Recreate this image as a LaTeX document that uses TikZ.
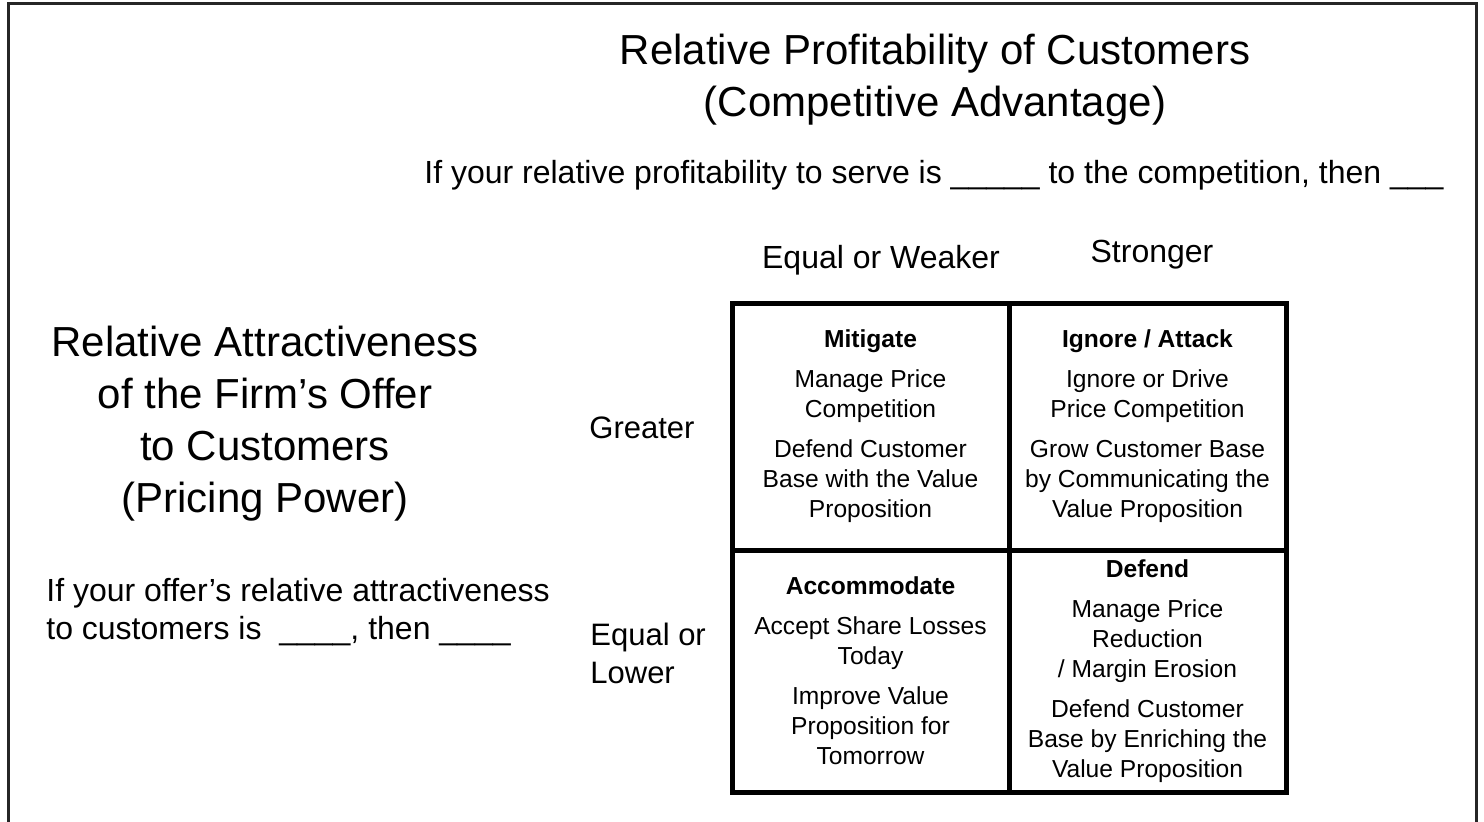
\documentclass[tikz,border=0pt]{standalone}
\usepackage{fontspec}
\setmainfont{Liberation Sans}
\usepackage{xcolor}
\usepackage{tikz}
\usetikzlibrary{positioning}
\definecolor{ink}{HTML}{000000}
\definecolor{framegray}{HTML}{262626}

\begin{document}
\begin{tikzpicture}[x=0.5pt,y=-0.5pt,
  big/.style={font=\fontsize{21}{26}\selectfont,align=center,inner sep=0pt},
  lead/.style={font=\fontsize{16}{19}\selectfont,inner sep=0pt},
  head/.style={font=\fontsize{15.5}{19}\selectfont,inner sep=0pt,align=left},
  cell/.style={draw=ink,line width=2.5pt,inner sep=0pt,outer sep=0pt,align=center,
    minimum width=138.5pt,font=\fontsize{12.3}{15}\selectfont},
  outline/.style={draw=framegray,line width=1.5pt}]
  \useasboundingbox (0,0) rectangle (1484,821);
  % open frame, runs off the bottom edge
  \draw[outline] (8.5,830) -- (8.5,3.5) -- (1476.5,3.5) -- (1476.5,830);

  % column axis
  \node[big] (colaxis) at (935,80) {Relative Profitability of Customers\\(Competitive Advantage)};
  \node[lead,anchor=base] (colq) at (934,183) {If your relative profitability to serve is \_\_\_\_\_ to the competition, then \_\_\_};
  \node[head,font=\fontsize{16}{19}\selectfont,anchor=base] (weak) at (881,268) {Equal or Weaker};
  \node[head,font=\fontsize{16}{19}\selectfont,anchor=base] (strong) at (1152,262) {Stronger};

  % row axis
  \node[big] (rowaxis) at (265,424) {Relative Attractiveness\\of the Firm’s Offer\\to Customers\\(Pricing Power)};
  \node[lead,anchor=west,align=left] (rowq) at (46,612) {If your offer’s relative attractiveness\\to customers is \ \_\_\_\_, then \_\_\_\_};
  \node[head,anchor=base west] (great) at (589,438) {Greater};
  \node[head,anchor=west] (low) at (590,653) {Equal or\\Lower};

  % the four cells
  \node[cell,minimum height=123.5pt] (mit) at (870.5,426.5)
    {\textbf{Mitigate}\\[5pt]Manage Price\\Competition\\[5pt]Defend Customer\\Base with the Value\\Proposition};
  \node[cell,minimum height=123.5pt,right=0pt of mit] (ign)
    {\textbf{Ignore / Attack}\\[5pt]Ignore or Drive\\Price Competition\\[5pt]Grow Customer Base\\by Communicating the\\Value Proposition};
  \node[cell,minimum height=121pt,below=0pt of mit] (acc)
    {\textbf{Accommodate}\\[5pt]Accept Share Losses\\Today\\[5pt]Improve Value\\Proposition for\\Tomorrow};
  \node[cell,minimum height=121pt,right=0pt of acc] (def)
    {\textbf{Defend}\\[5pt]Manage Price\\Reduction\\/ Margin Erosion\\[5pt]Defend Customer\\Base by Enriching the\\Value Proposition};
\end{tikzpicture}
\end{document}
